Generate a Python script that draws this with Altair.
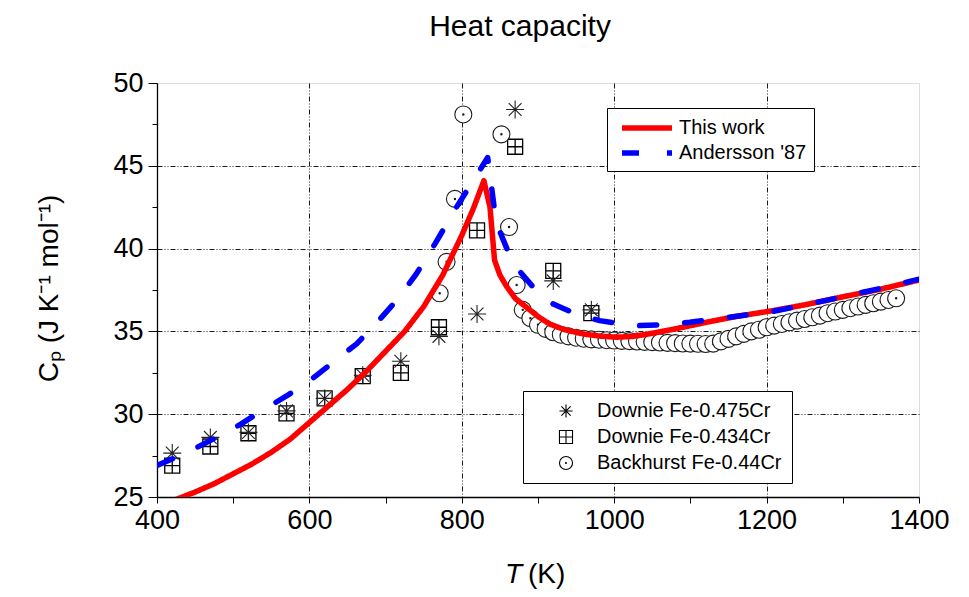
import altair as alt
import pandas as pd

# ---------------- data ----------------
models = ["This work", "Andersson '87"]
datasets = ["Downie Fe-0.475Cr", "Downie Fe-0.434Cr", "Backhurst Fe-0.44Cr"]

this_T = [400, 425, 450, 475, 500, 525, 550, 575, 600, 625, 650, 675, 700, 725, 750, 775, 800, 815, 829,
          837, 843, 850, 859, 870, 885, 900, 915, 935, 959, 980, 1003, 1025, 1046, 1080, 1121, 1160,
          1208, 1250, 1296, 1350, 1400]
this_Cp = [24.3, 24.85, 25.3, 25.8, 26.4, 27.0, 27.7, 28.5, 29.5, 30.5, 31.5, 32.6, 33.8, 35.0, 36.5,
           38.4, 40.8, 42.4, 44.1,
           42.5, 39.3, 38.4, 37.7, 37.0, 36.45, 35.9, 35.45, 35.1, 34.85, 34.72, 34.65, 34.7, 34.85,
           35.15, 35.55, 35.9, 36.25, 36.6, 37.05, 37.55, 38.1]

and_T = [400, 440, 478, 510, 539, 570, 601, 630, 662, 690, 714, 740, 765, 793, 815, 834,
         845, 860, 872, 895, 920, 950, 981, 1010, 1033, 1060, 1099, 1150, 1208, 1250, 1296, 1350, 1400]
and_Cp = [26.9, 27.7, 28.6, 29.4, 30.25, 31.1, 32.05, 33.1, 34.25, 35.6, 36.85, 38.45, 40.3, 42.5, 44.1,
          45.5, 41.6, 39.9, 38.85, 37.6, 36.65, 36.05, 35.65, 35.45, 35.35, 35.4, 35.55, 35.85, 36.2,
          36.6, 37.05, 37.6, 38.15]

d475_T = [420, 470, 520, 570, 620, 670, 720, 770, 820, 870, 920, 970]
d475_Cp = [27.65, 28.6, 28.9, 30.2, 30.95, 32.35, 33.2, 34.7, 36.05, 48.4, 38.05, 36.3]

d434_T = [420, 470, 520, 570, 620, 670, 720, 770, 820, 870, 920, 970]
d434_Cp = [26.9, 28.05, 28.85, 30.05, 30.95, 32.3, 32.5, 35.25, 41.1, 46.15, 38.65, 36.1]

bk_T = [771, 780, 791, 802, 852, 862, 872,
        880, 890, 900, 910, 920, 930, 940, 950, 960, 970, 980, 990, 1000,
        1010, 1020, 1030, 1040, 1050, 1060, 1070, 1080, 1090, 1100,
        1110, 1120, 1130, 1140, 1150, 1160, 1170, 1180, 1190, 1200,
        1210, 1220, 1230, 1240, 1250, 1260, 1270, 1280, 1290, 1300,
        1310, 1320, 1330, 1340, 1350, 1360, 1370]
bk_Cp = [37.3, 39.2, 43.0, 48.1, 46.9, 41.3, 37.8,
         36.3, 35.8, 35.4, 35.15, 34.95, 34.8, 34.7, 34.62, 34.56, 34.52, 34.5, 34.47, 34.45,
         34.43, 34.41, 34.39, 34.37, 34.35, 34.33, 34.31, 34.29, 34.27, 34.26,
         34.25, 34.24, 34.26, 34.4, 34.55, 34.7, 34.85, 35.0, 35.1, 35.25,
         35.35, 35.45, 35.55, 35.65, 35.75, 35.85, 35.95, 36.1, 36.2, 36.3,
         36.4, 36.5, 36.6, 36.7, 36.8, 36.9, 37.0]

x_ticks = [400, 500, 600, 700, 800, 900, 1000, 1100, 1200, 1300, 1400]
y_ticks = [25, 27.5, 30, 32.5, 35, 37.5, 40, 42.5, 45, 47.5, 50]

chart_title = "Heat capacity"
y_title = "Cₚ (J K⁻¹ mol⁻¹)"

# ---------------- tables ----------------
red_df = pd.DataFrame({"T": this_T, "Cp": this_Cp, "model": models[0]})
blue_df = pd.DataFrame({"T": and_T, "Cp": and_Cp, "model": models[1]})
ast_df = pd.DataFrame({"T": d475_T, "Cp": d475_Cp, "dataset": datasets[0]})
sq_df = pd.DataFrame({"T": d434_T, "Cp": d434_Cp, "dataset": datasets[1]})
bk_df = pd.DataFrame({"T": bk_T, "Cp": bk_Cp, "dataset": datasets[2]})

FONT = "Liberation Sans"
GRID_DASH = [5, 2, 1, 2, 1, 2]

x_axis = alt.Axis(values=x_ticks, format="d", labelExpr="datum.value % 200 == 0 ? datum.label : ''",
                  title=None, tickSize=6, labelPadding=4, labelFontSize=27, labelFont=FONT,
                  labelColor="black", labelFlush=False, tickColor="black", domainColor="black",
                  domainWidth=1.3, gridColor="black", gridDash=GRID_DASH, gridWidth=0.9,
                  gridOpacity={"condition": {"test": "datum.value % 200 == 0 && datum.value > 400 && datum.value < 1400", "value": 1}, "value": 0})
y_axis = alt.Axis(values=y_ticks, labelExpr="datum.value % 5 == 0 ? datum.label : ''",
                  title=y_title, titleFontSize=28, titleFont=FONT, titleFontWeight="normal",
                  titleColor="black",
                  titleX=-100, titleY=205, titleAlign="center", titleBaseline="alphabetic", titleAngle=270,
                  tickSize={"condition": {"test": "datum.value % 5 == 0", "value": 9}, "value": 5},
                  labelPadding=5, labelFontSize=27, labelFont=FONT, labelColor="black",
                  labelFlush=False, tickColor="black", domainColor="black", domainWidth=1.3,
                  gridColor="black", gridDash=GRID_DASH, gridWidth=0.9,
                  gridOpacity={"condition": {"test": "datum.value % 5 == 0 && datum.value > 25 && datum.value < 50", "value": 1}, "value": 0})

xs = alt.Scale(domain=[400, 1400], nice=False, zero=False)
ys = alt.Scale(domain=[25, 50], nice=False, zero=False)

X = alt.X("T:Q", scale=xs, axis=x_axis)
Y = alt.Y("Cp:Q", scale=ys, axis=y_axis)

line_leg = alt.Legend(title=None, orient="none", legendX=450, legendY=25, padding=7,
                      symbolType="M-2.5,0L2.5,0", symbolSize=400, symbolStrokeWidth=5.5,
                      symbolOffset=20, labelOffset=19, labelFontSize=20, labelFont=FONT,
                      labelColor="black", strokeColor="black", fillColor="white", rowPadding=1,
                      symbolFillColor="transparent", labelLimit=300)
color = alt.Color("model:N", scale=alt.Scale(domain=models, range=["#ff0000", "#0000ff"]), legend=line_leg)
dash = alt.StrokeDash("model:N", scale=alt.Scale(domain=models, range=[[1, 0], [17, 28]]), legend=line_leg)

ast_path = "M-1,0L1,0M0,-1L0,1M-0.71,-0.71L0.71,0.71M-0.71,0.71L0.71,-0.71"
sq_path = "M-1,-1L1,-1L1,1L-1,1ZM0,-1L0,1M-1,0L1,0"
circ_path = ("M-1,0A1,1,0,1,1,1,0A1,1,0,1,1,-1,0Z"
             "M-0.08,0A0.08,0.08,0,1,1,0.08,0A0.08,0.08,0,1,1,-0.08,0Z")

pt_leg = alt.Legend(title=None, orient="none", legendX=366, legendY=308, padding=10,
                    symbolSize=170, symbolOffset=23, labelOffset=21, labelFontSize=20, labelFont=FONT,
                    labelColor="black", strokeColor="black", fillColor="white", rowPadding=6,
                    symbolStrokeColor="black", symbolFillColor="transparent", symbolStrokeWidth=1.1,
                    labelLimit=300)
shape = alt.Shape("dataset:N", scale=alt.Scale(domain=datasets, range=[ast_path, sq_path, circ_path]),
                  legend=pt_leg)

bk = alt.Chart(bk_df).mark_point(filled=False, fill="white", fillOpacity=1, stroke="#1a1a1a",
                                 strokeWidth=1.1, size=289, opacity=1).encode(x=X, y=Y, shape=shape)
sq = alt.Chart(sq_df).mark_point(filled=False, stroke="black", strokeWidth=1.3, size=225,
                                 opacity=1).encode(x=X, y=Y, shape=shape)
ast = alt.Chart(ast_df).mark_point(filled=False, stroke="#222222", strokeWidth=1.1, size=324,
                                   opacity=1).encode(x=X, y=Y, shape=shape)

red = alt.Chart(red_df).mark_line(strokeWidth=5.5, clip=True, strokeCap="round", strokeJoin="round").encode(
    x=X, y=Y, color=color, strokeDash=dash)
blue = alt.Chart(blue_df).mark_line(strokeWidth=5.5, clip=True, strokeCap="round", strokeJoin="round").encode(
    x=X, y=Y, color=color, strokeDash=dash)

xt1 = alt.Chart(pd.DataFrame({"t": ["T"]})).mark_text(
    align="left", baseline="alphabetic", fontSize=28, fontStyle="italic", font=FONT, color="black"
).encode(text="t:N", x=alt.value(348), y=alt.value(500))
xt2 = alt.Chart(pd.DataFrame({"t": ["(K)"]})).mark_text(
    align="left", baseline="alphabetic", fontSize=28, font=FONT, color="black"
).encode(text="t:N", x=alt.value(371), y=alt.value(500))

chart = alt.layer(sq, bk, ast, red, blue, xt1, xt2).properties(
    width=762, height=414,
    title=alt.TitleParams(chart_title, fontSize=30, font=FONT, fontWeight="normal", color="black",
                          anchor="middle", dx=-18, offset=27),
    autosize=alt.AutoSizeParams(type="none"),
    padding={"left": 149, "top": 75, "right": 40, "bottom": 92},
).configure_view(stroke="black", strokeWidth=1.3).configure(background="white")

chart.save("out.html", embed_options={"renderer": "svg", "actions": False})
